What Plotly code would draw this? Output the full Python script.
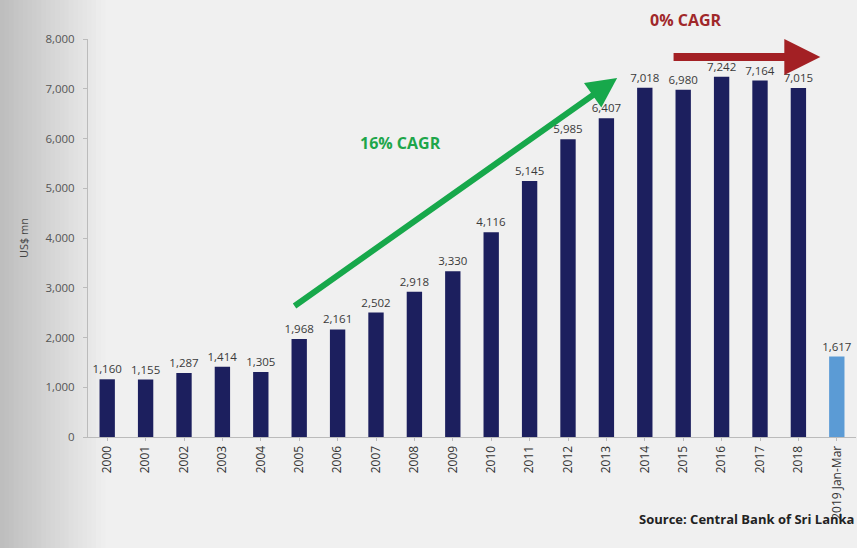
import plotly.graph_objects as go

years = ["2000", "2001", "2002", "2003", "2004", "2005", "2006", "2007", "2008", "2009",
         "2010", "2011", "2012", "2013", "2014", "2015", "2016", "2017", "2018", "2019 Jan-Mar"]
values = [1160, 1155, 1287, 1414, 1305, 1968, 2161, 2502, 2918, 3330,
          4116, 5145, 5985, 6407, 7018, 6980, 7242, 7164, 7015, 1617]
y_ticks = [0, 1000, 2000, 3000, 4000, 5000, 6000, 7000, 8000]

navy = "#1c1f5e"
light_blue = "#5b9bd5"
colors = [navy] * (len(values) - 1) + [light_blue]
labels = [f"{v:,}" for v in values]

fig = go.Figure()
fig.add_trace(go.Bar(
    x=list(range(len(years))), y=values,
    marker=dict(color=colors, line=dict(width=0)),
    text=labels, textposition="outside", cliponaxis=False, constraintext="none",
    textfont=dict(family="Open Sans", size=11.5, color="#3a3a3a"),
    width=0.4,
))

# smooth grey fade along the left edge of the page
plot_w = 857 - 88 - 1
steps = 24
fade_px = 110
shapes = []
for i in range(steps):
    t = i / (steps - 1)
    g = int(round(0xbe + (0xf0 - 0xbe) * t))
    px0 = fade_px * i / steps
    px1 = fade_px * (i + 1) / steps + 1
    shapes.append(dict(type="rect", xref="paper", yref="paper",
                       x0=(px0 - 88) / plot_w, x1=(px1 - 88) / plot_w,
                       y0=-0.4, y1=1.2, fillcolor=f"rgb({g},{g},{g})",
                       line=dict(width=0), layer="below"))

annotations = [
    # 16% CAGR growth arrow
    dict(x=13.28, y=7216, ax=4.84, ay=2613, xref="x", yref="y", axref="x", ayref="y",
         showarrow=True, arrowhead=2, arrowsize=1.0, arrowwidth=6, arrowcolor="#17a84b", text=""),
    dict(x=7.63, y=5900, xref="x", yref="y", text="<b>16% CAGR</b>", showarrow=False,
         font=dict(family="Open Sans", size=16, color="#1da64a")),
    # flat 0% CAGR arrow
    dict(x=18.57, y=7640, ax=14.71, ay=7640, xref="x", yref="y", axref="x", ayref="y",
         showarrow=True, arrowhead=2, arrowsize=0.9, arrowwidth=8, arrowcolor="#a32024", text=""),
    dict(x=15.08, y=8380 / 8000, xref="x", yref="paper", yanchor="middle", text="<b>0% CAGR</b>",
         showarrow=False, font=dict(family="Open Sans", size=16, color="#a0282a")),
    dict(x=1.0, y=-0.205, xref="paper", yref="paper", xanchor="right", yanchor="middle",
         text="<b>Source: Central Bank of Sri Lanka</b>", showarrow=False,
         font=dict(family="Open Sans", size=13, color="#222222")),
]

fig.update_layout(
    width=857, height=548,
    margin=dict(l=88, r=1, t=39, b=111),
    paper_bgcolor="#f0f0f0", plot_bgcolor="rgba(0,0,0,0)",
    showlegend=False,
    bargap=0.6,
    shapes=shapes,
    annotations=annotations,
    xaxis=dict(
        tickmode="array", tickvals=list(range(len(years))), ticktext=years,
        tickangle=-90, range=[-0.5, len(years) - 0.5],
        tickfont=dict(family="Open Sans", size=12, color="#333333"),
        showgrid=False, zeroline=False, showline=True, linecolor="#bbbbbb", linewidth=1,
        ticks="outside", ticklen=3, tickcolor="#bbbbbb",
    ),
    yaxis=dict(
        range=[0, 8000], tickvals=y_ticks, tickformat=",",
        tickfont=dict(family="Open Sans", size=11.5, color="#555555"),
        ticklabelstandoff=6,
        title=dict(text="US$ mn", font=dict(family="Open Sans", size=11, color="#444444"), standoff=14),
        showgrid=False, zeroline=False, showline=True, linecolor="#bbbbbb", linewidth=1,
        ticks="outside", ticklen=4, tickcolor="#bbbbbb",
    ),
)

fig.write_html("out.html")
